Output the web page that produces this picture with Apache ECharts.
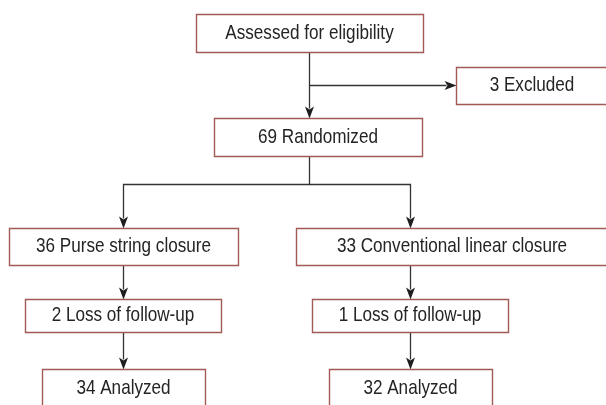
<!DOCTYPE html>
<html>
<head>
<meta charset="utf-8">
<script src="https://cdn.jsdelivr.net/npm/echarts@6/dist/echarts.min.js"></script>
<style>
html,body{margin:0;padding:0;background:#fff;}
#chart{width:606px;height:405px;}
</style>
</head>
<body>
<div id="chart"></div>
<script>
// box texts
var nodeLabels = [
	'Assessed for eligibility',
	'3 Excluded',
	'69 Randomized',
	'36 Purse string closure',
	'33 Conventional linear closure',
	'2 Loss of follow-up',
	'1 Loss of follow-up',
	'34 Analyzed',
	'32 Analyzed'
];

// layout (pixel space of the 606x405 canvas): [x0, y0, x1, y1]
var nodeBoxes = [
	[196, 14, 423, 52],
	[456, 67, 608, 104],
	[214, 118, 422, 156],
	[9, 228, 238, 265],
	[296, 228, 608, 265],
	[25, 299, 221, 332],
	[312, 299, 508, 332],
	[42, 369, 205, 410],
	[329, 369, 492, 410]
];

// connectors: polyline points, arrow at the last point
var links = [
	{pts: [[309, 52], [309, 118]], arrow: true},
	{pts: [[309, 85], [456, 85]], arrow: true},
	{pts: [[309, 156], [309, 184], [123, 184], [123, 228]], arrow: true},
	{pts: [[309, 184], [410, 184], [410, 228]], arrow: true},
	{pts: [[123, 265], [123, 299]], arrow: true},
	{pts: [[410, 265], [410, 299]], arrow: true},
	{pts: [[123, 332], [123, 369]], arrow: true},
	{pts: [[410, 332], [410, 369]], arrow: true}
];

var chart = echarts.init(document.getElementById('chart'));

var boxData = [];
for (var i = 0; i < nodeLabels.length; i++) {
	boxData.push(nodeBoxes[i].concat([i]));
}

var linkData = [];
for (var j = 0; j < links.length; j++) {
	linkData.push([links[j].pts[0][0], links[j].pts[0][1], j]);
}

var option = {
	animation: false,
	grid: {left: 0, right: 0, top: 0, bottom: 0},
	xAxis: {type: 'value', min: 0, max: 606, show: false},
	yAxis: {type: 'value', min: 0, max: 405, inverse: true, show: false},
	series: [
		{
			type: 'custom',
			coordinateSystem: 'cartesian2d',
			data: linkData,
			z: 2,
			renderItem: function (params, api) {
				var lk = links[api.value(2)];
				var pts = [];
				for (var k = 0; k < lk.pts.length; k++) {
					var c = api.coord(lk.pts[k]);
					pts.push([Math.round(c[0]) + 0.5, Math.round(c[1]) + 0.5]);
				}
				var children = [];
				var n = pts.length;
				var tip = pts[n - 1], prev = pts[n - 2];
				var dx = tip[0] - prev[0], dy = tip[1] - prev[1];
				var len = Math.sqrt(dx * dx + dy * dy);
				var ux = dx / len, uy = dy / len;
				var aL = 12, aW = 4.5;
				var linePts = pts.slice();
				if (lk.arrow) {
					linePts[n - 1] = [tip[0] - ux * (aL - 2), tip[1] - uy * (aL - 2)];
				}
				children.push({
					type: 'polyline',
					shape: {points: linePts},
					style: {stroke: '#333', lineWidth: 1.3, fill: null}
				});
				if (lk.arrow) {
					var bx = tip[0] - ux * aL, by = tip[1] - uy * aL;
					children.push({
						type: 'polygon',
						shape: {points: [
							tip,
							[bx - uy * aW, by + ux * aW],
							[tip[0] - ux * (aL - 3), tip[1] - uy * (aL - 3)],
							[bx + uy * aW, by - ux * aW]
						]},
						style: {fill: '#1e1e1e'}
					});
				}
				return {type: 'group', children: children};
			}
		},
		{
			type: 'custom',
			coordinateSystem: 'cartesian2d',
			data: boxData,
			z: 3,
			renderItem: function (params, api) {
				var p0 = api.coord([api.value(0), api.value(1)]);
				var p1 = api.coord([api.value(2), api.value(3)]);
				var idx = api.value(4);
				var w = p1[0] - p0[0];
				var h = p1[1] - p0[1];
				var cx = p0[0] + w / 2;
				var ty = idx >= 7 ? p0[1] + 19 : p0[1] + h / 2;
				return {
					type: 'group',
					children: [
						{
							type: 'rect',
							shape: {x: p0[0] + 0.5, y: p0[1] + 0.5, width: w, height: h},
							style: {fill: '#fff', stroke: '#a15a55', lineWidth: 1.4}
						},
						{
							type: 'text',
							x: cx,
							y: ty,
							scaleX: 0.815,
							style: {
								x: 0,
								y: 0,
								text: nodeLabels[idx],
								align: 'center',
								verticalAlign: 'middle',
								fill: '#262324',
								font: '21px "Liberation Sans", Arial, sans-serif'
							}
						}
					]
				};
			}
		}
	]
};

chart.setOption(option);
</script>
</body>
</html>
